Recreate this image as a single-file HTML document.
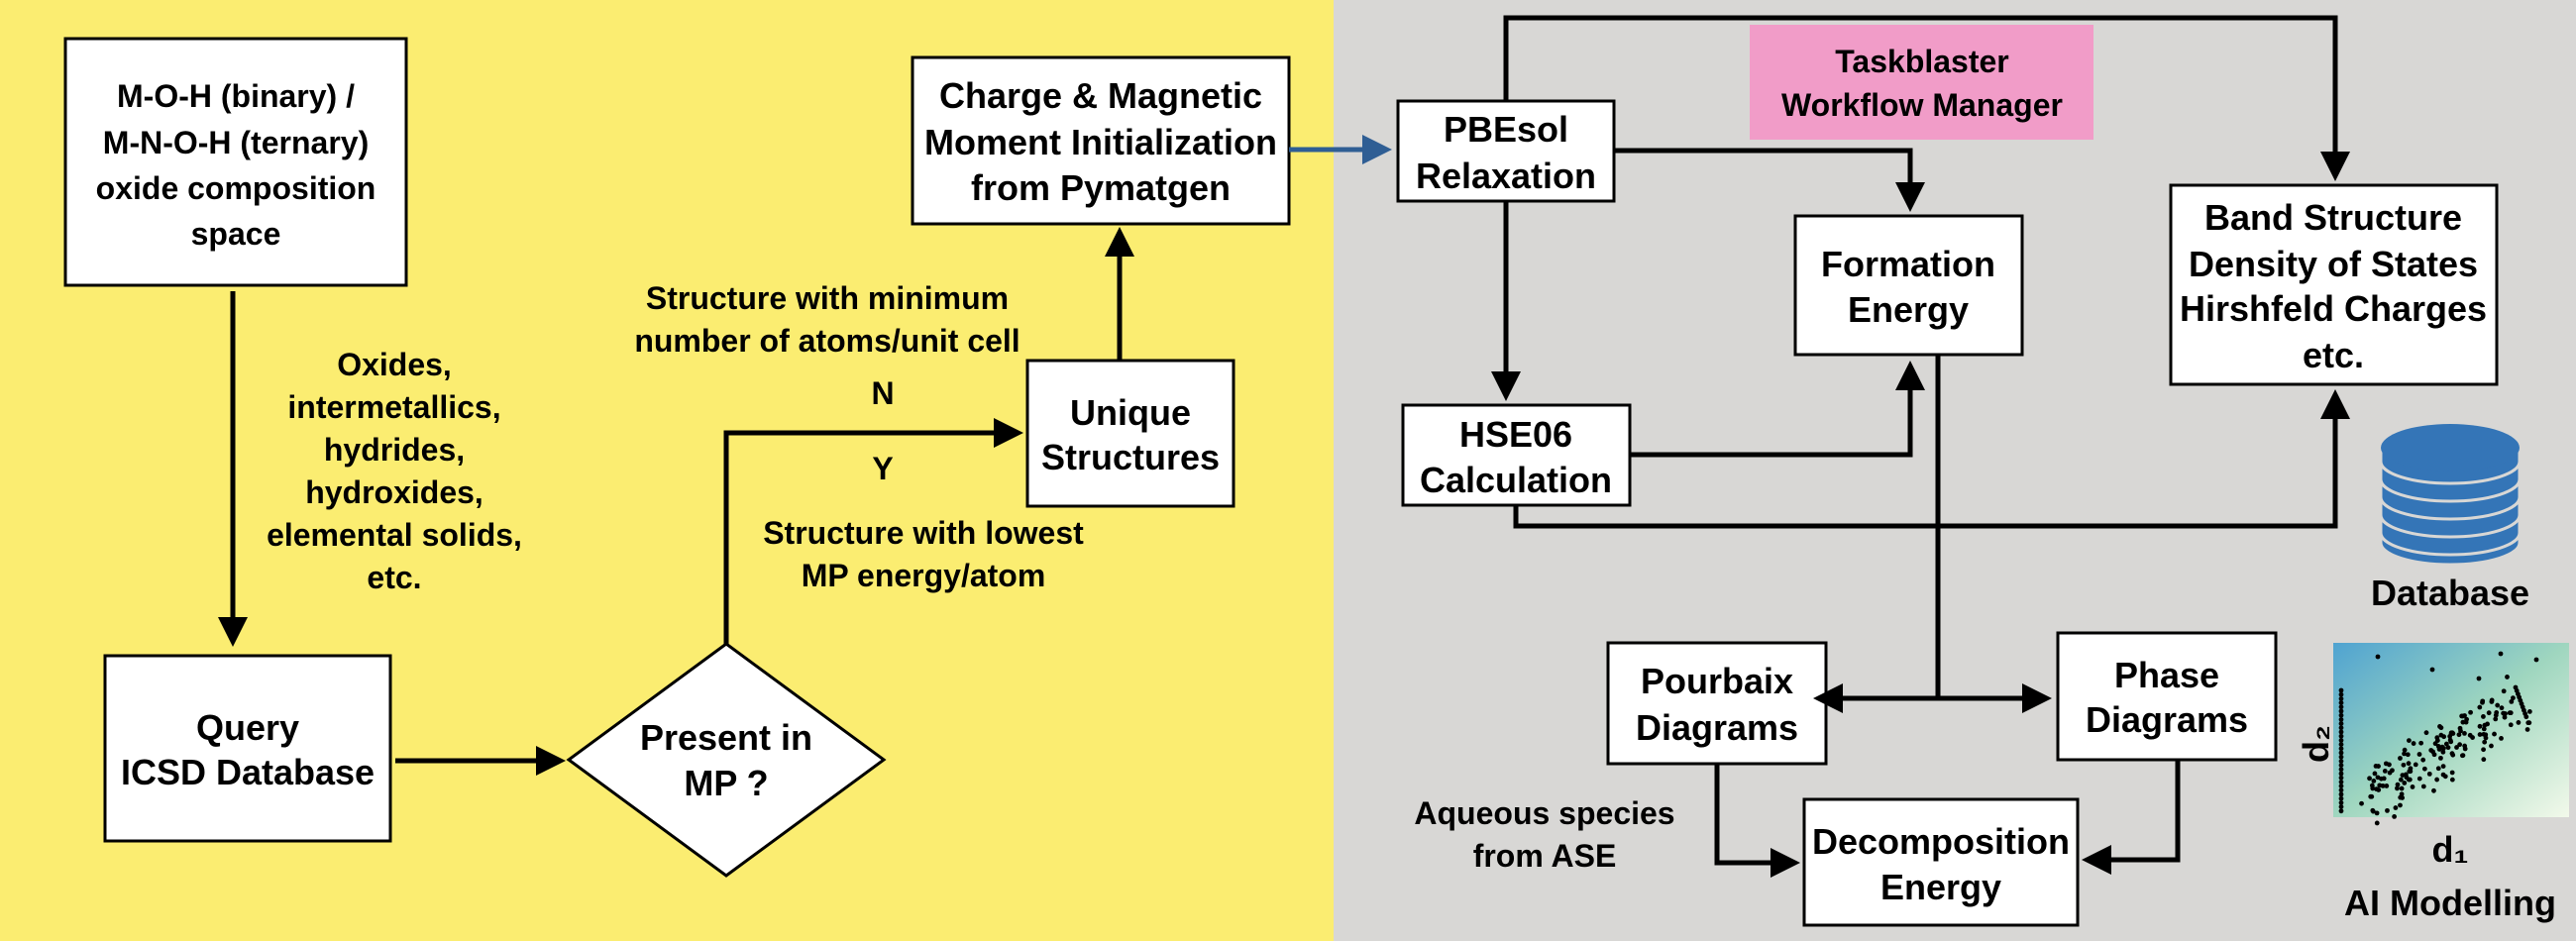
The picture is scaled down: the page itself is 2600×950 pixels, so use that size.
<!DOCTYPE html>
<html><head><meta charset="utf-8"><style>
html,body{margin:0;padding:0;width:2600px;height:950px;overflow:hidden}
svg text{font-family:"Liberation Sans",Arial,sans-serif;font-weight:bold;fill:#000;text-anchor:middle}
</style></head><body>
<svg id="s" width="2600" height="950" viewBox="0 0 2600 950" xmlns="http://www.w3.org/2000/svg">
<defs>
<marker id="ah" markerWidth="6" markerHeight="6" refX="5" refY="3" orient="auto" markerUnits="strokeWidth"><path d="M0,0 L6,3 L0,6 z" fill="#000"/></marker>
<marker id="ahb" markerWidth="6" markerHeight="6" refX="5" refY="3" orient="auto" markerUnits="strokeWidth"><path d="M0,0 L6,3 L0,6 z" fill="#2f5e94"/></marker>
<marker id="ahs" markerWidth="6" markerHeight="6" refX="1" refY="3" orient="auto-start-reverse" markerUnits="strokeWidth"><path d="M0,0 L6,3 L0,6 z" fill="#000"/></marker>
<linearGradient id="g" x1="0" y1="0" x2="1" y2="1"><stop offset="0" stop-color="#4fa3d1"/><stop offset="0.5" stop-color="#9fd6bf"/><stop offset="1" stop-color="#f2f9ea"/></linearGradient>
</defs>
<rect x="0" y="0" width="1346" height="950" fill="#fbed71"/>
<rect x="1346" y="0" width="1254" height="950" fill="#d8d7d5"/>

<g fill="#fff" stroke="#000" stroke-width="3">
<rect x="66" y="39" width="344" height="249"/>
<rect x="106" y="662" width="288" height="187"/>
<polygon points="733,650 892,767 733,884 574,767"/>
<rect x="1037" y="364" width="208" height="147"/>
<rect x="921" y="58" width="380" height="168"/>
<rect x="1411" y="102" width="218" height="101"/>
<rect x="1812" y="218" width="229" height="140"/>
<rect x="1416" y="409" width="229" height="101"/>
<rect x="2191" y="187" width="329" height="201"/>
<rect x="1623" y="649" width="220" height="122"/>
<rect x="2077" y="639" width="220" height="128"/>
<rect x="1821" y="807" width="276" height="127"/>
</g>
<rect x="1766" y="25" width="347" height="116" fill="#f19cc8"/>

<g fill="none" stroke="#000" stroke-width="5">
<path d="M235,294 V648" marker-end="url(#ah)"/>
<path d="M399,768 H566" marker-end="url(#ah)"/>
<path d="M733,650 V437 H1028" marker-end="url(#ah)"/>
<path d="M1130,364 V234" marker-end="url(#ah)"/>
<path d="M1520,102 V18 H2357 V178" marker-end="url(#ah)"/>
<path d="M1629,152 H1928 V209" marker-end="url(#ah)"/>
<path d="M1520,203 V400" marker-end="url(#ah)"/>
<path d="M1645,459 H1928 V369" marker-end="url(#ah)"/>
<path d="M1530,510 V531 H2357 V398" marker-end="url(#ah)"/>
<path d="M1956,358 V705"/>
<path d="M1855,705 H2066" marker-start="url(#ahs)" marker-end="url(#ah)"/>
<path d="M1733,771 V871 H1812" marker-end="url(#ah)"/>
<path d="M2198,767 V868 H2106" marker-end="url(#ah)"/>
</g>
<path d="M1301,151 H1400" stroke="#2f5e94" stroke-width="5" fill="none" marker-end="url(#ahb)"/>

<g font-size="32">
<text x="238" y="108">M-O-H (binary) /</text>
<text x="238" y="155">M-N-O-H (ternary)</text>
<text x="238" y="201">oxide composition</text>
<text x="238" y="247">space</text>
</g>
<g font-size="36">
<text x="250" y="747">Query</text>
<text x="250" y="792">ICSD Database</text>
<text x="733" y="757">Present in</text>
<text x="733" y="803">MP ?</text>
<text x="1141" y="429">Unique</text>
<text x="1141" y="474">Structures</text>
<text x="1111" y="109">Charge &amp; Magnetic</text>
<text x="1111" y="156">Moment Initialization</text>
<text x="1111" y="202">from Pymatgen</text>
<text x="1520" y="143">PBEsol</text>
<text x="1520" y="190">Relaxation</text>
<text x="1926" y="279">Formation</text>
<text x="1926" y="325">Energy</text>
<text x="1530" y="451">HSE06</text>
<text x="1530" y="497">Calculation</text>
<text x="2355" y="232">Band Structure</text>
<text x="2355" y="279">Density of States</text>
<text x="2355" y="324">Hirshfeld Charges</text>
<text x="2355" y="371">etc.</text>
<text x="1733" y="700">Pourbaix</text>
<text x="1733" y="747">Diagrams</text>
<text x="2187" y="694">Phase</text>
<text x="2187" y="739">Diagrams</text>
<text x="1959" y="862">Decomposition</text>
<text x="1959" y="908">Energy</text>
<text x="2473" y="611">Database</text>
<text x="2473" y="924">AI Modelling</text>
</g>
<g font-size="32">
<text x="1940" y="73">Taskblaster</text>
<text x="1940" y="117">Workflow Manager</text>
<text x="398" y="379">Oxides,</text>
<text x="398" y="422">intermetallics,</text>
<text x="398" y="465">hydrides,</text>
<text x="398" y="508">hydroxides,</text>
<text x="398" y="551">elemental solids,</text>
<text x="398" y="594">etc.</text>
<text x="835" y="312">Structure with minimum</text>
<text x="835" y="355">number of atoms/unit cell</text>
<text x="891" y="408">N</text>
<text x="891" y="484">Y</text>
<text x="932" y="549">Structure with lowest</text>
<text x="932" y="592">MP energy/atom</text>
<text x="1559" y="832">Aqueous species</text>
<text x="1559" y="875">from ASE</text>
</g>

<g fill="#3475b7" stroke="#d8d7d5" stroke-width="3">
<path d="M2403,538 v10 a70,22 0 0 0 140,0 v-10"/>
<path d="M2403,520 v18 a70,22 0 0 0 140,0 v-18"/>
<path d="M2403,502 v18 a70,22 0 0 0 140,0 v-18"/>
<path d="M2403,484 v18 a70,22 0 0 0 140,0 v-18"/>
<path d="M2403,466 v18 a70,22 0 0 0 140,0 v-18"/>
<path d="M2403,452 v14 a70,22 0 0 0 140,0 v-14"/>
<ellipse cx="2473" cy="452" rx="70" ry="24" stroke="none"/>
</g>

<rect x="2355" y="649" width="238" height="176" fill="url(#g)"/>
<g id="dots" fill="#000"></g>
<g font-size="36"><text x="2338" y="751" transform="rotate(-90 2338 751)" dy="12">d₂</text>
<text x="2473" y="870">d₁</text></g>
</svg>
<script>
var g=document.getElementById('dots'),s=7,ns='http://www.w3.org/2000/svg';
function r(){s=(s*9301+49297)%233280;return s/233280;}
function d(x,y){var c=document.createElementNS(ns,'circle');c.setAttribute('cx',x);c.setAttribute('cy',y);c.setAttribute('r',2.4);g.appendChild(c);}
for(var i=0;i<30;i++)d(2363,697+i*4.2);
for(var i=0;i<160;i++){var u=r(),v=r()-0.5;var x=2395+u*150+(r()-0.5)*30;var y=805-u*95+v*55;d(x,y);}
for(var i=0;i<10;i++)d(2539+i*1.2,694+i*3.3);
d(2400,663);d(2455,676);d(2524,660);d(2560,666);d(2502,685);
</script>
</body></html>
